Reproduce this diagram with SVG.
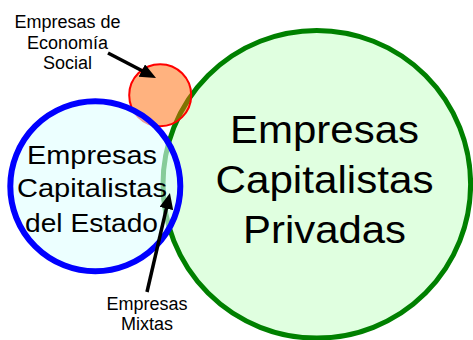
<svg xmlns="http://www.w3.org/2000/svg" width="473" height="340" viewBox="0 0 473 340">
  <defs>
    <marker id="arrow" markerUnits="userSpaceOnUse" markerWidth="18" markerHeight="16" refX="2" refY="7" orient="auto">
      <path d="M0,0 L16,7 L0,14 z" fill="#000"/>
    </marker>
    <style>
      .lbl { font-family: "Liberation Sans", Arial, sans-serif; fill: #000; text-anchor: middle; }
      .big { font-size: 38px; }
      .mid { font-size: 26.5px; }
      .small { font-size: 18px; }
      .conn { stroke: #000; stroke-width: 3.5; fill: none; marker-end: url(#arrow); }
    </style>
  </defs>
  <rect width="473" height="340" fill="#fff"/>

  <g id="privadas">
    <circle cx="316.8" cy="184.3" r="153.8" fill="#E0FFE0" stroke="#008000" stroke-width="5"/>
    <text class="lbl big" x="324.5" y="143" textLength="189" lengthAdjust="spacingAndGlyphs">Empresas</text>
    <text class="lbl big" x="324.5" y="193" textLength="218" lengthAdjust="spacingAndGlyphs">Capitalistas</text>
    <text class="lbl big" x="324.5" y="243" textLength="163" lengthAdjust="spacingAndGlyphs">Privadas</text>
  </g>

  <g id="social">
    <circle cx="160.2" cy="95.2" r="31" fill="#FF6600" fill-opacity="0.5" stroke="#FF0000" stroke-width="2"/>
  </g>

  <g id="estado">
    <circle cx="95.3" cy="186.3" r="85" fill="#E0FFFF" fill-opacity="0.6" stroke="#0000FF" stroke-width="6"/>
    <text class="lbl mid" x="92" y="164" textLength="130" lengthAdjust="spacingAndGlyphs">Empresas</text>
    <text class="lbl mid" x="92" y="197" textLength="150" lengthAdjust="spacingAndGlyphs">Capitalistas</text>
    <text class="lbl mid" x="91.5" y="231.5" textLength="133" lengthAdjust="spacingAndGlyphs">del Estado</text>
  </g>

  <g id="label-social">
    <text class="lbl small" x="67.5" y="28">Empresas de</text>
    <text class="lbl small" x="67.5" y="49">Economía</text>
    <text class="lbl small" x="67.5" y="69">Social</text>
  </g>

  <g id="label-mixtas">
    <text class="lbl small" x="147" y="310">Empresas</text>
    <text class="lbl small" x="147" y="330">Mixtas</text>
  </g>

  <g id="connectors">
    <line class="conn" x1="108" y1="53" x2="143.6" y2="71.5"/>
    <line class="conn" x1="147" y1="292" x2="166.8" y2="206.6"/>
  </g>
</svg>
